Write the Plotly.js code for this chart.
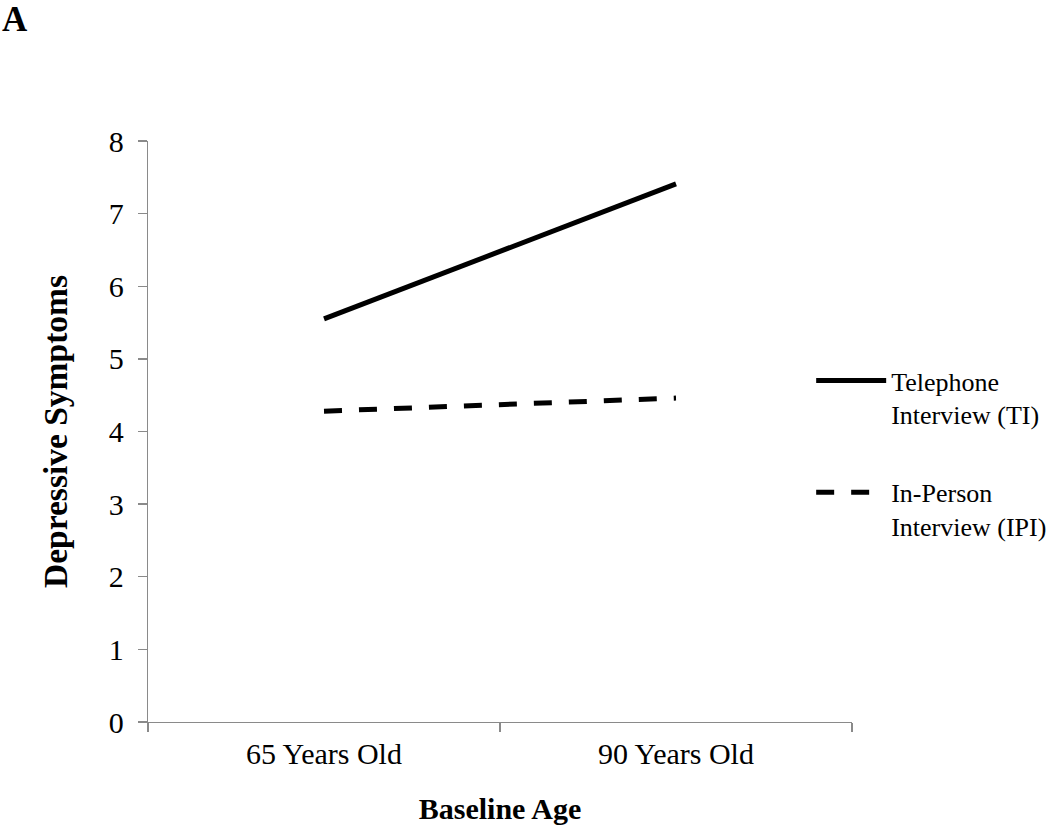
<!DOCTYPE html>
<html>
<head>
<meta charset="utf-8">
<script src="https://cdn.plot.ly/plotly-3.0.1.min.js"></script>
<style>html,body{margin:0;padding:0;background:#fff;}#chart{width:1050px;height:826px;}</style>
</head>
<body>
<div id="chart"></div>
<script>
var categories = ['65 Years Old', '90 Years Old'];
var telephoneTI = [5.55, 7.41];
var inPersonIPI = [4.28, 4.46];
var yTicks = [0, 1, 2, 3, 4, 5, 6, 7, 8];
var seriesNames = ['Telephone<br>Interview (TI)', 'In-Person<br>Interview (IPI)'];

var serif = '"Liberation Serif", "Times New Roman", serif';

var traces = [
  {
    x: categories, y: telephoneTI, type: 'scatter', mode: 'lines',
    name: seriesNames[0], legendgroup: 'a',
    line: {color: '#000000', width: 5}
  },
  {
    x: categories, y: inPersonIPI, type: 'scatter', mode: 'lines',
    name: seriesNames[1], legendgroup: 'b',
    line: {color: '#000000', width: 5, dash: '18px,17px'}
  }
];

var layout = {
  width: 1050, height: 826,
  paper_bgcolor: '#ffffff', plot_bgcolor: '#ffffff',
  margin: {l: 148, r: 198, t: 141, b: 104, autoexpand: false},
  font: {family: serif, color: '#000000', size: 30},
  title: {
    text: '<b>A</b>', x: 0.002, xref: 'container', xanchor: 'left',
    y: 0.992, yref: 'container', yanchor: 'top', pad: {t: 0, l: 0},
    font: {family: serif, size: 35, color: '#000000'}
  },
  showlegend: true,
  legend: {
    x: 0.942, xanchor: 'left', y: 0.628, yanchor: 'top',
    traceorder: 'grouped', tracegroupgap: 41,
    valign: 'top', itemwidth: 70,
    font: {family: serif, size: 26, color: '#000000'},
    bgcolor: 'rgba(0,0,0,0)'
  },
  xaxis: {
    type: 'category', range: [-0.5, 1.5],
    showline: true, linecolor: '#8a8a8a', linewidth: 1.3,
    ticks: 'outside', tickson: 'boundaries', ticklen: 9, tickcolor: '#8a8a8a', tickwidth: 1.3,
    ticklabelstandoff: 5,
    showgrid: false, zeroline: false,
    tickfont: {family: serif, size: 30, color: '#000000'},
    title: {text: '<b>Baseline Age</b>', font: {family: serif, size: 30, color: '#000000'}, standoff: 28}
  },
  yaxis: {
    range: [0, 8], tickvals: yTicks, ticktext: yTicks.map(String),
    showline: true, linecolor: '#8a8a8a', linewidth: 1.3,
    ticks: 'outside', ticklen: 9, tickcolor: '#8a8a8a', tickwidth: 1.3,
    ticklabelstandoff: 8,
    showgrid: false, zeroline: false,
    tickfont: {family: serif, size: 30, color: '#000000'},
    title: {text: '<b>Depressive Symptoms</b>', font: {family: serif, size: 33.5, color: '#000000'}, standoff: 31}
  }
};

Plotly.newPlot('chart', traces, layout, {displayModeBar: false, staticPlot: true});
</script>
</body>
</html>
